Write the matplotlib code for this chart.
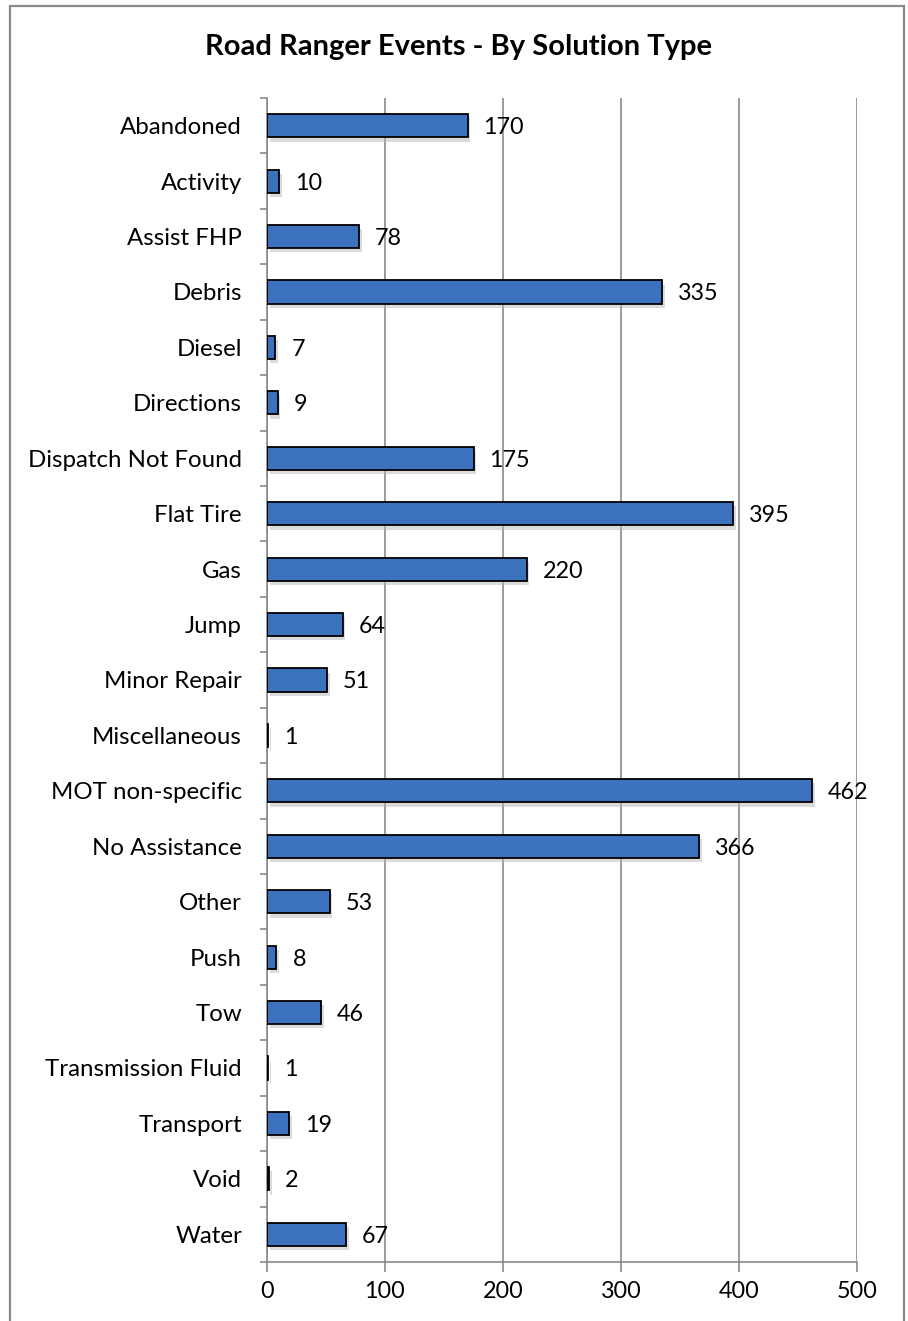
import matplotlib
matplotlib.use("Agg")
import matplotlib.pyplot as plt
import matplotlib.patheffects as pe
from matplotlib.patches import Rectangle

categories = ["Abandoned", "Activity", "Assist FHP", "Debris", "Diesel", "Directions",
              "Dispatch Not Found", "Flat Tire", "Gas", "Jump", "Minor Repair",
              "Miscellaneous", "MOT non-specific", "No Assistance", "Other", "Push",
              "Tow", "Transmission Fluid", "Transport", "Void", "Water"]
values = [170, 10, 78, 335, 7, 9, 175, 395, 220, 64, 51, 1, 462, 366, 53, 8, 46, 1, 19, 2, 67]
x_ticks = [0, 100, 200, 300, 400, 500]
title = "Road Ranger Events - By Solution Type"

plt.rcParams['font.family'] = ['Lato', 'DejaVu Sans']

W, H = 908, 1321
fig = plt.figure(figsize=(W / 100, H / 100), dpi=100)

# outer frame
fig.patches.append(Rectangle((9.5 / W, -0.01), (904 - 9.5) / W, 1.01 - 5.5 / H + 0.0,
                             transform=fig.transFigure, fill=False,
                             edgecolor="#8a8a8a", linewidth=1.6))

left, right = 267 / W, 857 / W
top, bottom = 1 - 98 / H, 1 - 1262 / H
ax = fig.add_axes([left, bottom, right - left, top - bottom])

n = len(categories)
ypos = list(range(n))
bars = ax.barh(ypos, values, height=0.42, color="#3c71bd", edgecolor="black",
               linewidth=1.3, zorder=3)
for b in bars:
    b.set_path_effects([pe.SimplePatchShadow(offset=(2, -3), shadow_rgbFace="#b8b8b8", alpha=0.5),
                        pe.Normal()])

ax.set_ylim(n - 0.5, -0.5)
ax.set_xlim(0, 500)
ax.set_xticks(x_ticks)
ax.set_xticklabels([str(t) for t in x_ticks], fontsize=16.8)

ax.set_yticks([i - 0.5 for i in range(n + 1)], minor=False)
ax.set_yticklabels([])
ax.set_yticks(ypos, minor=True)
ax.set_yticklabels(categories, minor=True, fontsize=17.3)
ax.tick_params(axis="y", which="minor", length=0, pad=18)
ax.tick_params(axis="y", which="major", length=5, color="#8a8a8a", width=1.2)
ax.tick_params(axis="x", length=7, color="#8a8a8a", width=1.2, pad=7)

ax.grid(axis="x", color="#8a8a8a", linewidth=1.2, zorder=0)
ax.set_axisbelow(True)
for s in ["top", "right"]:
    ax.spines[s].set_visible(False)
for s in ["left", "bottom"]:
    ax.spines[s].set_color("#8a8a8a")
    ax.spines[s].set_linewidth(1.2)

for i, v in enumerate(values):
    ax.annotate(str(v), xy=(v, i), xytext=(16, -2), textcoords="offset pixels",
                va="center", ha="left", fontsize=16.8, zorder=4)

fig.text(458 / W, 1 - 47 / H, title, ha="center", va="center", fontsize=21,
         fontweight="bold")

fig.savefig("out.png", dpi=100)
